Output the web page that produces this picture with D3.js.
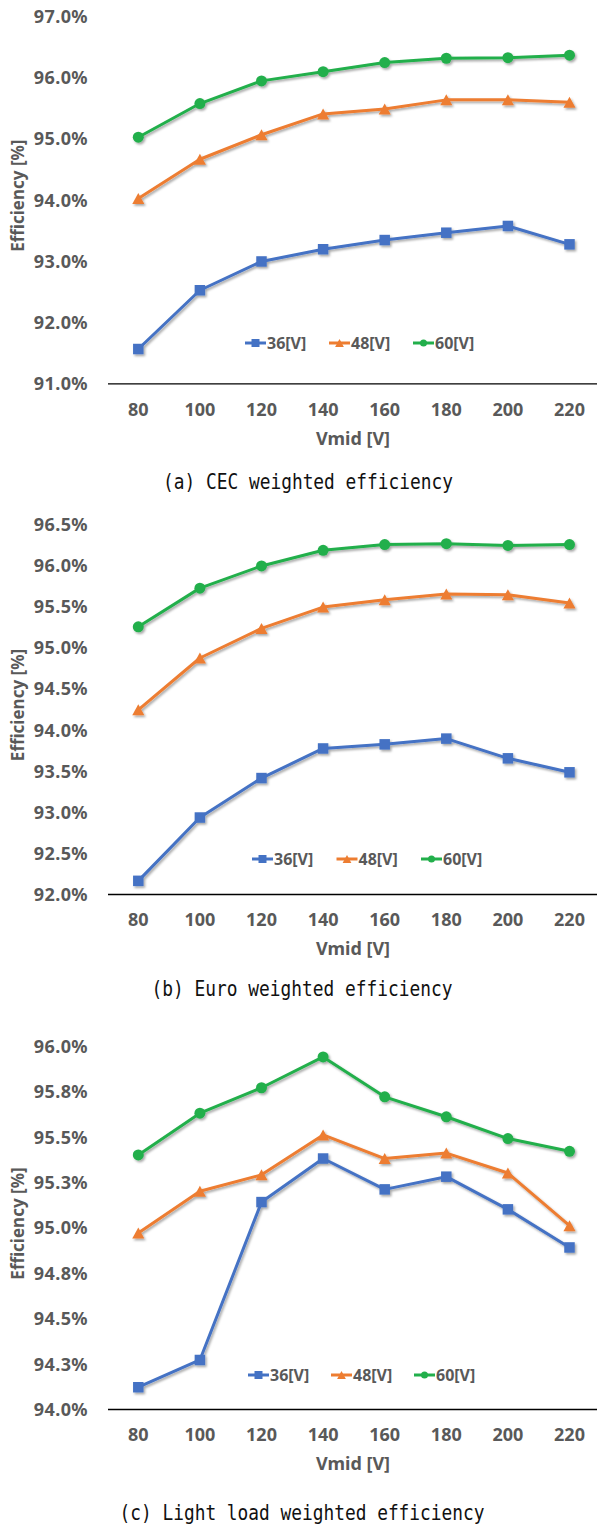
<!DOCTYPE html>
<html>
<head>
<meta charset="utf-8">
<script src="https://cdn.jsdelivr.net/npm/d3@7"></script>
<style>
  html, body { margin: 0; padding: 0; background: #fff; }
  svg { display: block; }
</style>
</head>
<body>
<svg id="chart" width="597" height="1525"></svg>
<script>
// Categories on the x axis: mid-link voltage
const vmid = [80, 100, 120, 140, 160, 180, 200, 220];

// Series names and colours
const seriesNames = ["36[V]", "48[V]", "60[V]"];
const seriesColors = ["#4472C4", "#ED7D31", "#22AF4B"];
const seriesShapes = ["square", "triangle", "circle"];

// (a) CEC weighted efficiency [%]
const cec36 = [91.56, 92.52, 92.99, 93.19, 93.34, 93.46, 93.57, 93.27];
const cec48 = [94.02, 94.66, 95.06, 95.40, 95.48, 95.63, 95.63, 95.59];
const cec60 = [95.02, 95.57, 95.94, 96.09, 96.24, 96.31, 96.32, 96.36];
const cecTicks = [91, 92, 93, 94, 95, 96, 97];
const cecTickLabels = ["91.0%", "92.0%", "93.0%", "94.0%", "95.0%", "96.0%", "97.0%"];

// (b) Euro weighted efficiency [%]
const euro36 = [92.16, 92.93, 93.41, 93.77, 93.82, 93.89, 93.65, 93.48];
const euro48 = [94.24, 94.87, 95.23, 95.49, 95.58, 95.65, 95.64, 95.54];
const euro60 = [95.25, 95.72, 95.99, 96.18, 96.25, 96.26, 96.24, 96.25];
const euroTicks = [92, 92.5, 93, 93.5, 94, 94.5, 95, 95.5, 96, 96.5];
const euroTickLabels = ["92.0%", "92.5%", "93.0%", "93.5%", "94.0%", "94.5%", "95.0%", "95.5%", "96.0%", "96.5%"];

// (c) Light load weighted efficiency [%]
const light36 = [94.12, 94.27, 95.14, 95.38, 95.21, 95.28, 95.10, 94.89];
const light48 = [94.97, 95.20, 95.29, 95.51, 95.38, 95.41, 95.30, 95.01];
const light60 = [95.40, 95.63, 95.77, 95.94, 95.72, 95.61, 95.49, 95.42];
const lightTicks = [94, 94.25, 94.5, 94.75, 95, 95.25, 95.5, 95.75, 96];
const lightTickLabels = ["94.0%", "94.3%", "94.5%", "94.8%", "95.0%", "95.3%", "95.5%", "95.8%", "96.0%"];

const captions = ["(a) CEC weighted efficiency", "(b) Euro weighted efficiency", "(c) Light load weighted efficiency"];

const svg = d3.select("#chart");
const FONT = "'Noto Sans', 'Open Sans', sans-serif";
const GREY = "#595959";

// soft drop shadow used on the series lines and markers
const defs = svg.append("defs");
const shadow = defs.append("filter").attr("id", "shadow")
  .attr("x", "-20%").attr("y", "-20%").attr("width", "140%").attr("height", "140%");
shadow.append("feDropShadow")
  .attr("dx", 1.5).attr("dy", 1.8).attr("stdDeviation", 1.1)
  .attr("flood-color", "#000").attr("flood-opacity", 0.35);

function markerPath(shape, size) {
  if (shape === "square") {
    const h = size / 2;
    return `M${-h},${-h}H${h}V${h}H${-h}Z`;
  }
  if (shape === "triangle") {
    const w = size * 1.1, h = size;
    return `M0,${-h / 2}L${w / 2},${h / 2}L${-w / 2},${h / 2}Z`;
  }
  const r = size / 2;
  return `M${r},0A${r},${r} 0 1,1 ${-r},0A${r},${r} 0 1,1 ${r},0Z`;
}

function drawPanel(p) {
  const g = svg.append("g");

  const x = d3.scaleBand().domain(vmid).range([107.5, 600.3]);
  const cx = v => x(v) + x.bandwidth() / 2;
  const y = d3.scaleLinear().domain(p.domain).range([p.bottom, p.top]);

  // y axis (labels only)
  const yAxis = d3.axisLeft(y)
    .tickValues(p.ticks)
    .tickFormat((d, i) => p.tickLabels[i])
    .tickSize(0).tickPadding(0);
  const ya = g.append("g").attr("transform", "translate(88,0)").call(yAxis);
  ya.select(".domain").remove();
  ya.selectAll("text")
    .attr("font-family", FONT).attr("font-weight", 700).attr("font-size", 18)
    .attr("letter-spacing", 0.4).attr("fill", GREY).attr("dy", "0.36em");

  // x axis with baseline
  const xAxis = d3.axisBottom(x).tickSize(0).tickSizeOuter(0).tickPadding(0);
  const xa = g.append("g").attr("transform", `translate(0,${p.bottom})`).call(xAxis);
  xa.select(".domain").attr("stroke", "#000").attr("stroke-width", 1.3);
  xa.selectAll("text")
    .attr("font-family", FONT).attr("font-weight", 700).attr("font-size", 18)
    .attr("fill", GREY).attr("y", 26).attr("dy", "0.36em");

  // axis titles
  g.append("text")
    .attr("x", 353).attr("y", p.bottom + 55).attr("dy", "0.36em")
    .attr("text-anchor", "middle")
    .attr("font-family", FONT).attr("font-weight", 700).attr("font-size", 18)
    .attr("fill", GREY).text("Vmid [V]");
  g.append("text")
    .attr("transform", `translate(24,${(p.top + p.bottom) / 2 - 4}) rotate(-90)`)
    .attr("text-anchor", "middle")
    .attr("font-family", FONT).attr("font-weight", 700).attr("font-size", 17)
    .attr("fill", GREY).text("Efficiency [%]");

  // series
  const line = d3.line().x((d, i) => cx(vmid[i])).y(d => y(d));
  p.series.forEach((vals, s) => {
    const sg = g.append("g").attr("filter", "url(#shadow)");
    sg.append("path").datum(vals)
      .attr("d", line).attr("fill", "none")
      .attr("stroke", seriesColors[s]).attr("stroke-width", 3)
      .attr("stroke-linejoin", "round");
    sg.selectAll("path.m").data(vals).join("path").attr("class", "m")
      .attr("transform", (d, i) => `translate(${cx(vmid[i])},${y(d)})`)
      .attr("d", markerPath(seriesShapes[s], seriesShapes[s] === "square" ? 10.5 : 11))
      .attr("fill", seriesColors[s]);
  });

  // legend
  const lg = g.append("g").attr("transform", `translate(${p.legendX},${p.legendY})`);
  seriesNames.forEach((name, s) => {
    const it = lg.append("g").attr("transform", `translate(${s * p.legendStep},0)`);
    it.append("line").attr("x1", 0).attr("x2", 21).attr("y1", 0).attr("y2", 0)
      .attr("stroke", seriesColors[s]).attr("stroke-width", 3);
    it.append("path").attr("transform", "translate(10.5,0)")
      .attr("d", markerPath(seriesShapes[s], seriesShapes[s] === "circle" ? 7 : 8))
      .attr("fill", seriesColors[s]);
    it.append("text").attr("x", 22).attr("y", 0).attr("dy", "0.36em")
      .attr("font-family", FONT).attr("font-weight", 700).attr("font-size", 16)
      .attr("fill", GREY).text(name);
  });

  // caption
  g.append("text")
    .attr("x", p.captionX).attr("y", p.captionY)
    .attr("text-anchor", "middle")
    .attr("font-family", "'DejaVu Sans Mono', monospace").attr("font-size", 22)
    .attr("textLength", p.captionLen).attr("lengthAdjust", "spacingAndGlyphs")
    .attr("fill", "#111").text(p.caption);
}

drawPanel({
  domain: [91, 97], top: 16, bottom: 383.3,
  ticks: cecTicks, tickLabels: cecTickLabels,
  series: [cec36, cec48, cec60],
  legendX: 245, legendY: 343, legendStep: 84,
  caption: captions[0], captionX: 308, captionY: 489, captionLen: 290
});
drawPanel({
  domain: [92, 96.5], top: 524, bottom: 894,
  ticks: euroTicks, tickLabels: euroTickLabels,
  series: [euro36, euro48, euro60],
  legendX: 252, legendY: 859, legendStep: 84.5,
  caption: captions[1], captionX: 302, captionY: 996, captionLen: 301
});
drawPanel({
  domain: [94, 96], top: 1046, bottom: 1409,
  ticks: lightTicks, tickLabels: lightTickLabels,
  series: [light36, light48, light60],
  legendX: 248, legendY: 1375, legendStep: 83,
  caption: captions[2], captionX: 302, captionY: 1520, captionLen: 365
});
</script>
</body>
</html>
